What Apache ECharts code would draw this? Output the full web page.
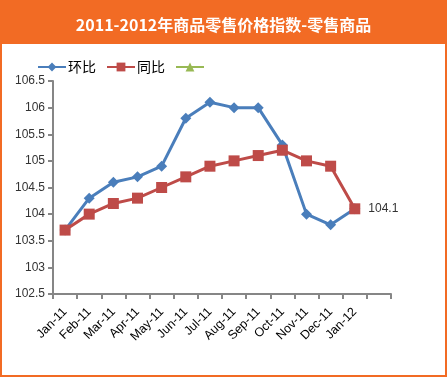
<!DOCTYPE html>
<html><head><meta charset="utf-8">
<script src="https://cdn.jsdelivr.net/npm/echarts@6/dist/echarts.min.js"></script>
<style>html,body{margin:0;padding:0;background:#fff}#c{width:447px;height:377px;}</style>
</head><body><div id="c"></div>
<script>
var categories = ['Jan-11','Feb-11','Mar-11','Apr-11','May-11','Jun-11','Jul-11','Aug-11','Sep-11','Oct-11','Nov-11','Dec-11','Jan-12',''];
var huanbi = [103.7,104.3,104.6,104.7,104.9,105.8,106.1,106.0,106.0,105.3,104.0,103.8,104.1];
var tongbi = [103.7,104.0,104.2,104.3,104.5,104.7,104.9,105.0,105.1,105.2,105.0,104.9,104.1];
var third = [];
var titleText = '2011-2012年商品零售价格指数-零售商品';
var chart = echarts.init(document.getElementById('c'));
chart.setOption({
  animation:false,
  graphic:[
    {type:'rect',shape:{x:0,y:0,width:447,height:44},style:{fill:'#F26B24'},z:0,silent:true},
    {type:'rect',shape:{x:1,y:1,width:445,height:375},style:{fill:'none',stroke:'#F26B24',lineWidth:2},z:0,silent:true}
  ],
  title:{text:titleText,left:'center',top:12,textStyle:{color:'#fff',fontSize:16,fontWeight:'bold',fontFamily:'"Noto Sans CJK SC", sans-serif'}},
  legend:{left:32,top:55,itemGap:10,itemWidth:28,itemHeight:11,textStyle:{fontSize:14,color:'#000',padding:[0,0,0,-3],fontFamily:'"Noto Sans CJK SC", sans-serif'},
    data:['环比','同比',' ']},
  grid:{left:53,right:56,top:81,bottom:83},
  xAxis:{type:'category',data:categories,boundaryGap:true,
    axisLine:{lineStyle:{color:'#868686',width:2}},
    axisTick:{show:true,length:5,lineStyle:{color:'#868686',width:2}},
    axisLabel:{rotate:45,interval:0,color:'#000',fontSize:12.5,fontFamily:'"Liberation Sans", sans-serif',margin:16}},
  yAxis:{type:'value',min:102.5,max:106.5,interval:0.5,
    axisLine:{show:true,lineStyle:{color:'#868686',width:2}},
    axisTick:{show:true,length:5,lineStyle:{color:'#868686',width:2}},
    splitLine:{show:false},
    axisLabel:{color:'#333',fontSize:12,fontFamily:'"Liberation Sans", sans-serif',margin:8}},
  series:[
    {name:'环比',type:'line',data:huanbi,symbol:'diamond',symbolSize:11,lineStyle:{color:'#4A7EBB',width:3},itemStyle:{color:'#4A7EBB'},z:2},
    {name:'同比',type:'line',data:tongbi,symbol:'rect',symbolSize:11,lineStyle:{color:'#BE4B48',width:3},itemStyle:{color:'#BE4B48'},z:3,
      label:{show:true,position:'right',distance:8,color:'#333',fontSize:12,fontFamily:'"Liberation Sans", sans-serif',
        formatter:function(p){return p.dataIndex===tongbi.length-1?p.value:'';}}},
    {name:' ',type:'line',data:third,symbol:'triangle',symbolSize:10,lineStyle:{color:'#98B954',width:3},itemStyle:{color:'#98B954'}}
  ]
});
</script></body></html>
